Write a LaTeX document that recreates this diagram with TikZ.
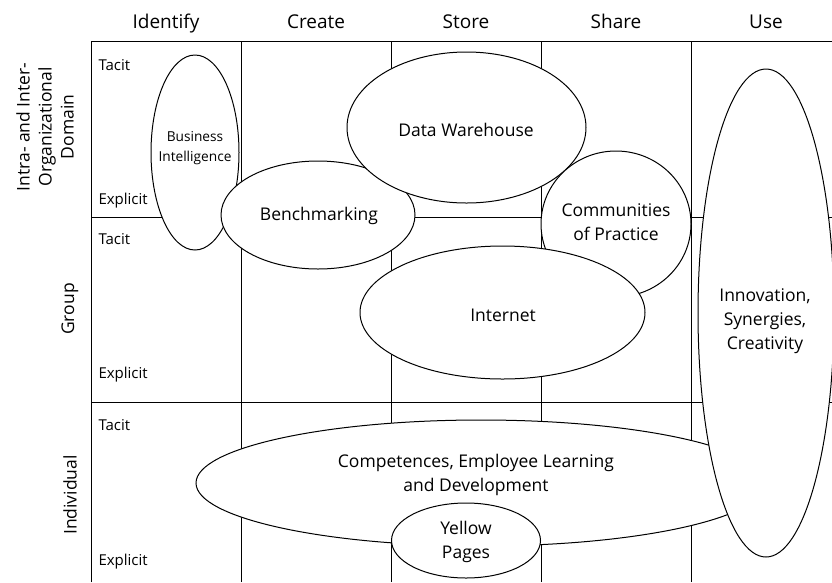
\documentclass[tikz,border=0pt]{standalone}
\usepackage{fontspec}
\setmainfont{Open Sans}
\usetikzlibrary{shapes.geometric}

\begin{document}
\begin{tikzpicture}[x=1pt,y=-1pt,line width=1pt,
  blob/.style={ellipse,draw,fill=white,inner sep=0pt},
  head/.style={font=\fontsize{19}{23}\selectfont,anchor=base},
  side/.style={font=\fontsize{17.5}{22}\selectfont,rotate=90,align=center},
  kind/.style={font=\fontsize{15}{18}\selectfont,anchor=base west,inner sep=0pt},
  txt/.style={font=\fontsize{17.5}{24}\selectfont,align=center},
  small/.style={font=\fontsize{13.7}{20}\selectfont,align=center}]

\clip (0,0) rectangle (832,582);

% grid
\draw (91,582) -- (91,41) -- (832,41);
\foreach \y in {217,402} \draw (91,\y) -- (832,\y);
\foreach \x in {241,391,541,691} \draw (\x,41) -- (\x,582);

% column heads
\foreach \name [count=\i] in {Identify,Create,Store,Share,Use}
  \node[head] (head\i) at ({16+150*\i},28) {\name};

% row heads
\node[side] (domain) at (45,127) {Intra- and Inter-\\Organizational\\Domain};
\node[side] (group) at (70,309) {Group};
\node[side] (indiv) at (70,495) {Individual};

% tacit / explicit
\node[kind] (tacit1) at (98,70) {Tacit};
\node[kind] (expl1)  at (98,204) {Explicit};
\node[kind] (tacit2) at (98,244) {Tacit};
\node[kind] (expl2)  at (98,378) {Explicit};
\node[kind] (tacit3) at (98,430) {Tacit};
\node[kind] (expl3)  at (98,565) {Explicit};

% instruments
\node[blob,minimum width=88pt,minimum height=195pt] (bi) at (195,152.5) {};
\node[small] (bitxt) at (195,148) {Business\\Intelligence};

\node[blob,minimum width=194pt,minimum height=108pt] (bench) at (318,215) {};
\node[txt] (benchtxt) at (319,216) {Benchmarking};

\node[blob,minimum width=239pt,minimum height=151pt] (dw) at (466.5,127.5) {};
\node[txt] (dwtxt) at (466,130) {Data Warehouse};

\node[blob,minimum width=150pt,minimum height=146pt] (cop) at (616,224) {};
\node[txt] (coptxt) at (616,222) {Communities\\of Practice};

\node[blob,minimum width=285pt,minimum height=133pt] (net) at (502.5,312.5) {};
\node[txt] (nettxt) at (503,315) {Internet};

\node[blob,minimum width=570pt,minimum height=126pt] (comp) at (481,483) {};
\node[txt] (comptxt) at (476,475) {Competences, Employee Learning\\and Development};

\node[blob,minimum width=149pt,minimum height=75pt] (yp) at (466,540.5) {};
\node[txt] (yptxt) at (466,542) {Yellow\\Pages};

\node[blob,minimum width=136pt,minimum height=488pt] (inno) at (766,313) {};
\node[txt] (innotxt) at (765,321) {Innovation,\\Synergies,\\Creativity};

\end{tikzpicture}
\end{document}
